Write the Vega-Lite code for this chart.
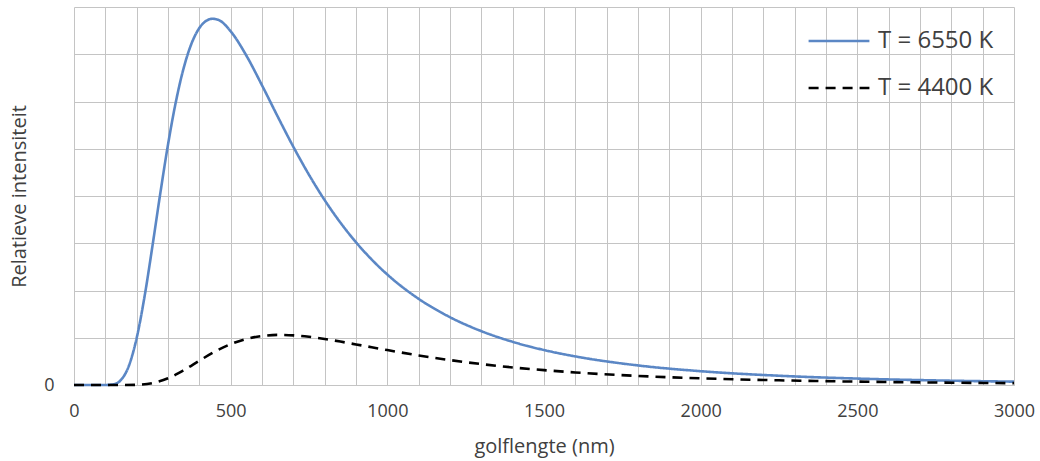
{
  "$schema": "https://vega.github.io/schema/vega-lite/v6.json",
  "autosize": {"type": "none"},
  "width": 940,
  "height": 378,
  "padding": {"left": 74, "top": 7, "right": 26, "bottom": 76},
  "background": "white",
  "config": {
    "view": {"stroke": null},
    "font": "Open Sans",
    "axis": {
      "labelColor": "#404040",
      "titleColor": "#404040",
      "labelFont": "Open Sans",
      "titleFont": "Open Sans",
      "titleFontWeight": "normal",
      "gridColor": "#c4c4c4",
      "gridWidth": 1,
      "ticks": false
    }
  },
  "data": {
    "values": [
      {"wl": 0, "I": 0, "T": "T = 6550 K"},
      {"wl": 100, "I": 0.0005, "T": "T = 6550 K"},
      {"wl": 125, "I": 0.014, "T": "T = 6550 K"},
      {"wl": 150, "I": 0.108, "T": "T = 6550 K"},
      {"wl": 175, "I": 0.403, "T": "T = 6550 K"},
      {"wl": 200, "I": 0.993, "T": "T = 6550 K"},
      {"wl": 225, "I": 1.866, "T": "T = 6550 K"},
      {"wl": 250, "I": 2.925, "T": "T = 6550 K"},
      {"wl": 275, "I": 4.038, "T": "T = 6550 K"},
      {"wl": 300, "I": 5.087, "T": "T = 6550 K"},
      {"wl": 325, "I": 5.99, "T": "T = 6550 K"},
      {"wl": 350, "I": 6.708, "T": "T = 6550 K"},
      {"wl": 375, "I": 7.225, "T": "T = 6550 K"},
      {"wl": 400, "I": 7.555, "T": "T = 6550 K"},
      {"wl": 425, "I": 7.719, "T": "T = 6550 K"},
      {"wl": 442, "I": 7.75, "T": "T = 6550 K"},
      {"wl": 460, "I": 7.73, "T": "T = 6550 K"},
      {"wl": 500, "I": 7.486, "T": "T = 6550 K"},
      {"wl": 550, "I": 6.973, "T": "T = 6550 K"},
      {"wl": 600, "I": 6.343, "T": "T = 6550 K"},
      {"wl": 650, "I": 5.683, "T": "T = 6550 K"},
      {"wl": 700, "I": 5.042, "T": "T = 6550 K"},
      {"wl": 750, "I": 4.449, "T": "T = 6550 K"},
      {"wl": 800, "I": 3.913, "T": "T = 6550 K"},
      {"wl": 850, "I": 3.439, "T": "T = 6550 K"},
      {"wl": 900, "I": 3.021, "T": "T = 6550 K"},
      {"wl": 950, "I": 2.656, "T": "T = 6550 K"},
      {"wl": 1000, "I": 2.338, "T": "T = 6550 K"},
      {"wl": 1100, "I": 1.823, "T": "T = 6550 K"},
      {"wl": 1200, "I": 1.435, "T": "T = 6550 K"},
      {"wl": 1300, "I": 1.14, "T": "T = 6550 K"},
      {"wl": 1400, "I": 0.914, "T": "T = 6550 K"},
      {"wl": 1500, "I": 0.74, "T": "T = 6550 K"},
      {"wl": 1600, "I": 0.605, "T": "T = 6550 K"},
      {"wl": 1800, "I": 0.414, "T": "T = 6550 K"},
      {"wl": 2000, "I": 0.292, "T": "T = 6550 K"},
      {"wl": 2250, "I": 0.196, "T": "T = 6550 K"},
      {"wl": 2500, "I": 0.136, "T": "T = 6550 K"},
      {"wl": 2750, "I": 0.097, "T": "T = 6550 K"},
      {"wl": 3000, "I": 0.071, "T": "T = 6550 K"},
      {"wl": 0, "I": 0, "T": "T = 4400 K"},
      {"wl": 150, "I": 0.0001, "T": "T = 4400 K"},
      {"wl": 200, "I": 0.0046, "T": "T = 4400 K"},
      {"wl": 250, "I": 0.04, "T": "T = 4400 K"},
      {"wl": 300, "I": 0.142, "T": "T = 4400 K"},
      {"wl": 350, "I": 0.312, "T": "T = 4400 K"},
      {"wl": 400, "I": 0.514, "T": "T = 4400 K"},
      {"wl": 450, "I": 0.708, "T": "T = 4400 K"},
      {"wl": 500, "I": 0.865, "T": "T = 4400 K"},
      {"wl": 550, "I": 0.975, "T": "T = 4400 K"},
      {"wl": 600, "I": 1.037, "T": "T = 4400 K"},
      {"wl": 650, "I": 1.06, "T": "T = 4400 K"},
      {"wl": 700, "I": 1.051, "T": "T = 4400 K"},
      {"wl": 750, "I": 1.02, "T": "T = 4400 K"},
      {"wl": 800, "I": 0.974, "T": "T = 4400 K"},
      {"wl": 850, "I": 0.919, "T": "T = 4400 K"},
      {"wl": 900, "I": 0.859, "T": "T = 4400 K"},
      {"wl": 950, "I": 0.799, "T": "T = 4400 K"},
      {"wl": 1000, "I": 0.739, "T": "T = 4400 K"},
      {"wl": 1100, "I": 0.626, "T": "T = 4400 K"},
      {"wl": 1200, "I": 0.527, "T": "T = 4400 K"},
      {"wl": 1300, "I": 0.443, "T": "T = 4400 K"},
      {"wl": 1400, "I": 0.372, "T": "T = 4400 K"},
      {"wl": 1500, "I": 0.314, "T": "T = 4400 K"},
      {"wl": 1600, "I": 0.265, "T": "T = 4400 K"},
      {"wl": 1800, "I": 0.192, "T": "T = 4400 K"},
      {"wl": 2000, "I": 0.141, "T": "T = 4400 K"},
      {"wl": 2250, "I": 0.099, "T": "T = 4400 K"},
      {"wl": 2500, "I": 0.071, "T": "T = 4400 K"},
      {"wl": 2750, "I": 0.052, "T": "T = 4400 K"},
      {"wl": 3000, "I": 0.039, "T": "T = 4400 K"}
    ]
  },
  "mark": {"type": "line", "interpolate": "monotone", "strokeWidth": 2.6},
  "encoding": {
    "x": {
      "field": "wl",
      "type": "quantitative",
      "scale": {"domain": [0, 3000], "nice": false},
      "axis": {
        "title": "golflengte (nm)",
        "values": [0,100,200,300,400,500,600,700,800,900,1000,1100,1200,1300,1400,1500,1600,1700,1800,1900,2000,2100,2200,2300,2400,2500,2600,2700,2800,2900,3000],
        "labelExpr": "datum.value % 500 == 0 ? datum.label : ''",
        "format": "d",
        "labelFontSize": 18,
        "labelPadding": 17,
        "labelFlush": false,
        "labelOverlap": false,
        "titleFontSize": 20,
        "titlePadding": 16,
        "domain": true,
        "domainColor": "#c4c4c4"
      }
    },
    "y": {
      "field": "I",
      "type": "quantitative",
      "scale": {"domain": [0, 8], "nice": false},
      "axis": {
        "title": "Relatieve intensiteit",
        "values": [0,1,2,3,4,5,6,7,8],
        "labelExpr": "datum.value == 0 ? '0' : ''",
        "labelFontSize": 18,
        "labelPadding": 20,
        "titleFontSize": 20,
        "titlePadding": 14,
        "domain": false
      }
    },
    "color": {
      "field": "T",
      "type": "nominal",
      "scale": {"domain": ["T = 6550 K", "T = 4400 K"], "range": ["#5b87c5", "#000000"]},
      "legend": {
        "title": null,
        "orient": "none",
        "legendX": 733,
        "legendY": 2,
        "padding": 0,
        "symbolType": "stroke",
        "symbolSize": 3700,
        "symbolStrokeWidth": 2.6,
        "labelFontSize": 24,
        "labelFont": "Open Sans",
        "labelColor": "#404040",
        "labelOffset": 7,
        "rowPadding": 3,
        "labelLimit": 300
      }
    },
    "strokeDash": {
      "field": "T",
      "type": "nominal",
      "scale": {"domain": ["T = 6550 K", "T = 4400 K"], "range": [[1, 0], [10, 7]]},
      "legend": null
    }
  }
}
